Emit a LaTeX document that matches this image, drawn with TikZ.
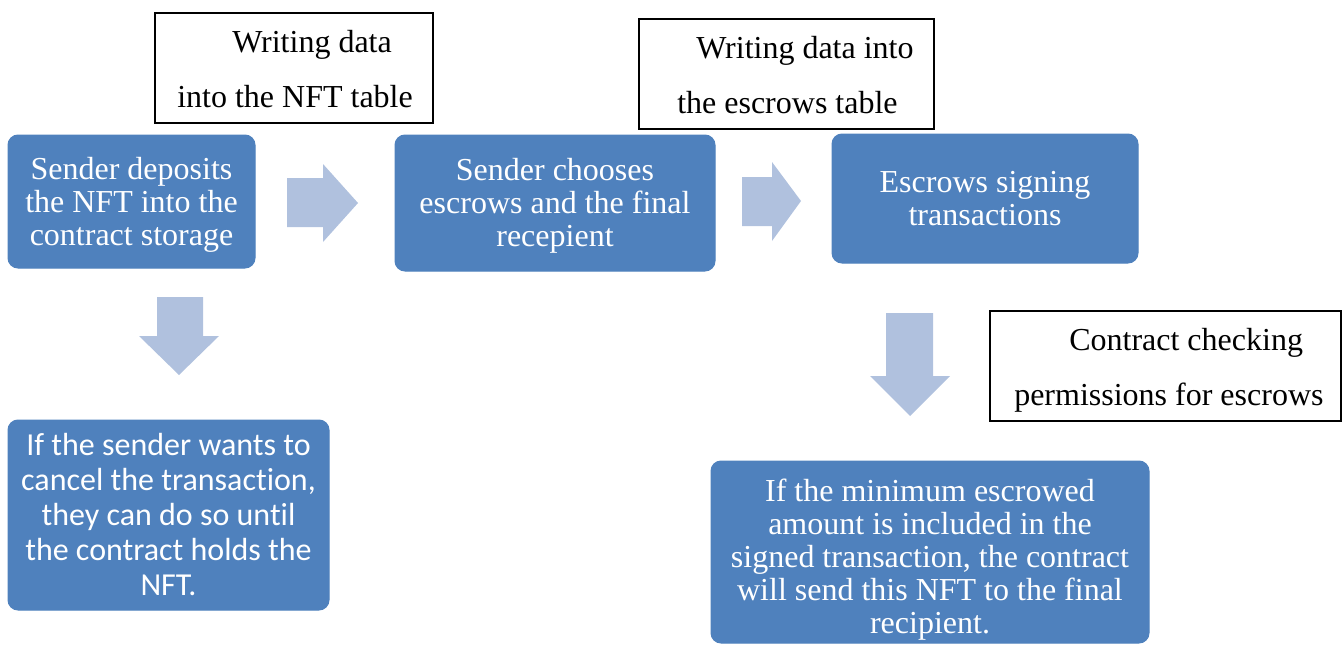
\documentclass[tikz,border=0pt]{standalone}
\usepackage{fontspec}
\setmainfont{Liberation Serif}
\newfontfamily\calibfont[Ligatures=NoCommon]{Carlito}
\definecolor{boxblue}{HTML}{4F81BD}
\definecolor{arrowblue}{RGB}{176,193,222}
\begin{document}
\begin{tikzpicture}[x=0.75pt,y=-0.75pt,
  bluebox/.style={fill=boxblue, draw=boxblue, line width=0.75pt, rounded corners=7.5pt, inner sep=0pt},
  bluetext/.style={text=white, align=center, inner sep=0pt, font=\fontsize{24}{24.75}\selectfont},
  wbox/.style={draw=black, line width=0.9pt, fill=white, inner sep=0pt},
  wtext/.style={anchor=base west, inner sep=0pt, font=\fontsize{24}{24.75}\selectfont},
  blockarrow/.style={fill=arrowblue, draw=none}]
\useasboundingbox (0,0) rectangle (1342,646);

% white label boxes
\node[wbox, minimum width=208.5pt, minimum height=82.5pt] (w1) at (294,68) {};
\node[wtext] (w1a) at (232,52) {Writing data};
\node[wtext] (w1b) at (177,107) {into the NFT table};

\node[wbox, minimum width=221.25pt, minimum height=82.5pt] (w2) at (786.5,74) {};
\node[wtext] (w2a) at (696,58) {Writing data into};
\node[wtext] (w2b) at (677,113) {the escrows table};

\node[wbox, minimum width=263.25pt, minimum height=82.5pt] (w3) at (1165.5,366) {};
\node[wtext] (w3a) at (1069,350) {Contract checking};
\node[wtext] (w3b) at (1014,405) {permissions for escrows};

% blue boxes
\node[bluebox, minimum width=185.25pt, minimum height=99.75pt] (a) at (131.5,201.5) {};
\node[bluetext] (at) at (131.5,204.5) {Sender deposits\\the NFT into the\\contract storage};

\node[bluebox, minimum width=240pt, minimum height=102pt] (b) at (555,203) {};
\node[bluetext] (bt) at (555,206) {Sender chooses\\escrows and the final\\recepient};

\node[bluebox, minimum width=229.5pt, minimum height=96.75pt] (c) at (985,198.5) {};
\node[bluetext] (ct) at (985,199) {Escrows signing\\transactions};

\node[bluebox, minimum width=240.75pt, minimum height=142.5pt] (d) at (168.5,515) {};
\node[bluetext, font=\calibfont\fontsize{24}{26.25}\selectfont] (dt) at (168.5,515)
  {If the sender wants to\\cancel the transaction,\\they can do so until\\the contract holds the\\NFT.};

\node[bluebox, minimum width=328.5pt, minimum height=136.5pt] (e) at (930,552) {};
\node[bluetext] (et) at (930,559.5)
  {If the minimum escrowed\\amount is included in the\\signed transaction, the contract\\will send this NFT to the final\\recipient.};

% block arrows
\fill[blockarrow] (287,178) -- (323,178) -- (323,164) -- (358,203) -- (323,242) -- (323,227) -- (287,227) -- cycle;
\fill[blockarrow] (742,177) -- (772,177) -- (772,162) -- (801,201) -- (772,241) -- (772,226) -- (742,226) -- cycle;
\fill[blockarrow] (157,297) -- (203,297) -- (203,336) -- (219,336) -- (179,375) -- (139,336) -- (157,336) -- cycle;
\fill[blockarrow] (886,313) -- (933,313) -- (933,376) -- (950,376) -- (910,416) -- (870,376) -- (886,376) -- cycle;
\end{tikzpicture}
\end{document}
